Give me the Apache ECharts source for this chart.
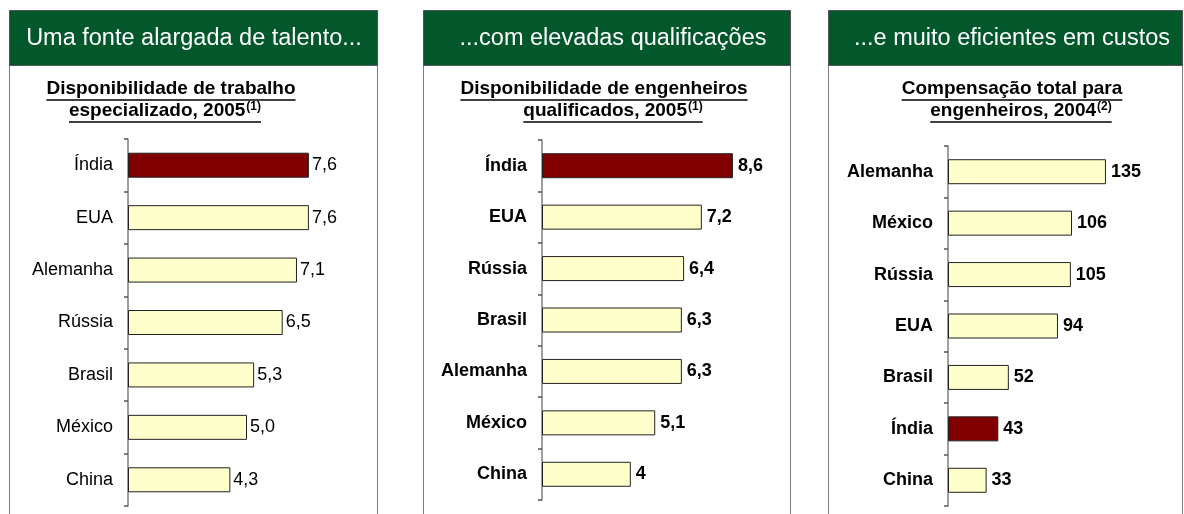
<!DOCTYPE html>
<html>
<head>
<meta charset="utf-8">
<script src="https://cdn.jsdelivr.net/npm/echarts@6/dist/echarts.min.js"></script>
<style>
  html, body { margin: 0; padding: 0; background: #fff; }
  #chart { width: 1184px; height: 514px; }
</style>
</head>
<body>
<div id="chart"></div>
<script>
// Panel 1: skilled labour availability, 2005
const talentCategories = ['Índia', 'EUA', 'Alemanha', 'Rússia', 'Brasil', 'México', 'China'];
const talentValues = [7.6, 7.6, 7.1, 6.5, 5.3, 5.0, 4.3];

// Panel 2: qualified engineers availability, 2005
const engineerCategories = ['Índia', 'EUA', 'Rússia', 'Brasil', 'Alemanha', 'México', 'China'];
const engineerValues = [8.6, 7.2, 6.4, 6.3, 6.3, 5.1, 4];

// Panel 3: total compensation for engineers, 2004
const costCategories = ['Alemanha', 'México', 'Rússia', 'EUA', 'Brasil', 'Índia', 'China'];
const costValues = [135, 106, 105, 94, 52, 43, 33];

const headerTitles = ['Uma fonte alargada de talento...', '...com elevadas qualificações', '...e muito eficientes em custos'];
const subtitleLines = [
  [['Disponibilidade de trabalho', ''], ['especializado, 2005', '(1)']],
  [['Disponibilidade de engenheiros', ''], ['qualificados, 2005', '(1)']],
  [['Compensação total para', ''], ['engenheiros, 2004', '(2)']]
];
const highlightCountry = 'Índia';

const FAMILY = '"Liberation Sans", Arial, Helvetica, sans-serif';
const GREEN = '#03582b';
const MAROON = '#800000';
const CREAM = '#ffffcc';
const BORDER = '#7f7f7f';

const measureCtx = document.createElement('canvas').getContext('2d');
function textWidth(str, font) {
  measureCtx.font = font;
  return measureCtx.measureText(str).width;
}

// Panel frames: [left, right, title centre]
const panels = [
  { left: 9, right: 377, titleX: 194, subX: [171, 165] },
  { left: 423, right: 790, titleX: 613, subX: [604, 613] },
  { left: 828, right: 1182, titleX: 1012, subX: [1012, 1021] }
];

const graphics = [];
panels.forEach((p, i) => {
  graphics.push({
    type: 'rect', silent: true, z: 0,
    shape: { x: p.left + 0.5, y: 10.5, width: p.right - p.left, height: 540 },
    style: { fill: '#fff', stroke: BORDER, lineWidth: 1 }
  });
  graphics.push({
    type: 'rect', silent: true, z: 1,
    shape: { x: p.left + 0.5, y: 10.5, width: p.right - p.left, height: 55 },
    style: { fill: GREEN, stroke: '#555', lineWidth: 1 }
  });
  graphics.push({
    type: 'text', silent: true, z: 2,
    style: {
      text: headerTitles[i], x: p.titleX, y: 39,
      font: '23.5px ' + FAMILY, fill: '#fff',
      textAlign: 'center', textVerticalAlign: 'middle'
    }
  });

  const mainFont = 'bold 19px ' + FAMILY;
  const supFont = 'bold 12px ' + FAMILY;
  const lineY = [88.5, 111];
  const underlineY = [100, 122];
  subtitleLines[i].forEach((ln, j) => {
    const wMain = textWidth(ln[0], mainFont);
    const wSup = ln[1] ? textWidth(ln[1], supFont) + 1 : 0;
    const total = wMain + wSup;
    const x0 = p.subX[j] - total / 2;
    graphics.push({
      type: 'text', silent: true, z: 2,
      style: {
        text: ln[0], x: x0, y: lineY[j], font: mainFont, fill: '#000',
        textAlign: 'left', textVerticalAlign: 'middle'
      }
    });
    if (ln[1]) {
      graphics.push({
        type: 'text', silent: true, z: 2,
        style: {
          text: ln[1], x: x0 + wMain + 1, y: lineY[j] - 4, font: supFont, fill: '#000',
          textAlign: 'left', textVerticalAlign: 'middle'
        }
      });
    }
    graphics.push({
      type: 'line', silent: true, z: 2,
      shape: { x1: x0, y1: underlineY[j], x2: x0 + total, y2: underlineY[j] },
      style: { stroke: '#000', lineWidth: 1.5 }
    });
  });
});

function barData(categories, values) {
  return values.map((v, k) => ({
    value: v,
    itemStyle: { color: categories[k] === highlightCountry ? MAROON : CREAM }
  }));
}

function yAxisFor(gridIndex, categories, bold) {
  return {
    type: 'category', gridIndex: gridIndex, inverse: true, data: categories,
    axisLine: { show: true, lineStyle: { color: BORDER, width: 1.5 } },
    axisTick: { show: true, length: 4, lineStyle: { color: '#555', width: 1.5 } },
    axisLabel: {
      margin: 15, color: '#000', fontSize: 18, fontFamily: FAMILY,
      fontWeight: bold ? 'bold' : 'normal'
    },
    splitLine: { show: false }
  };
}

function xAxisFor(gridIndex, max) {
  return {
    type: 'value', gridIndex: gridIndex, min: 0, max: max, show: false,
    splitLine: { show: false }
  };
}

function barSeries(idx, categories, values, bold, fmt) {
  return {
    type: 'bar', xAxisIndex: idx, yAxisIndex: idx, barWidth: 25,
    data: barData(categories, values),
    itemStyle: { borderColor: '#222', borderWidth: 1 },
    label: {
      show: true, position: 'right', distance: bold ? 5 : 3,
      color: '#000', fontSize: 18, fontFamily: FAMILY,
      fontWeight: bold ? 'bold' : 'normal',
      formatter: p => fmt(p.value)
    },
    emphasis: { disabled: true },
    animation: false
  };
}

const chart = echarts.init(document.getElementById('chart'), null, { renderer: 'canvas' });
chart.setOption({
  animation: false,
  backgroundColor: '#fff',
  grid: [
    { left: 128, top: 139, width: 238, height: 367 },
    { left: 542, top: 140, width: 222, height: 360 },
    { left: 948, top: 146, width: 234, height: 360 }
  ],
  xAxis: [xAxisFor(0, 10), xAxisFor(1, 10), xAxisFor(2, 200)],
  yAxis: [
    yAxisFor(0, talentCategories, false),
    yAxisFor(1, engineerCategories, true),
    yAxisFor(2, costCategories, true)
  ],
  series: [
    barSeries(0, talentCategories, talentValues, false, v => v.toFixed(1).replace('.', ',')),
    barSeries(1, engineerCategories, engineerValues, true, v => String(v).replace('.', ',')),
    barSeries(2, costCategories, costValues, true, v => String(v))
  ],
  graphic: graphics
});
</script>
</body>
</html>
